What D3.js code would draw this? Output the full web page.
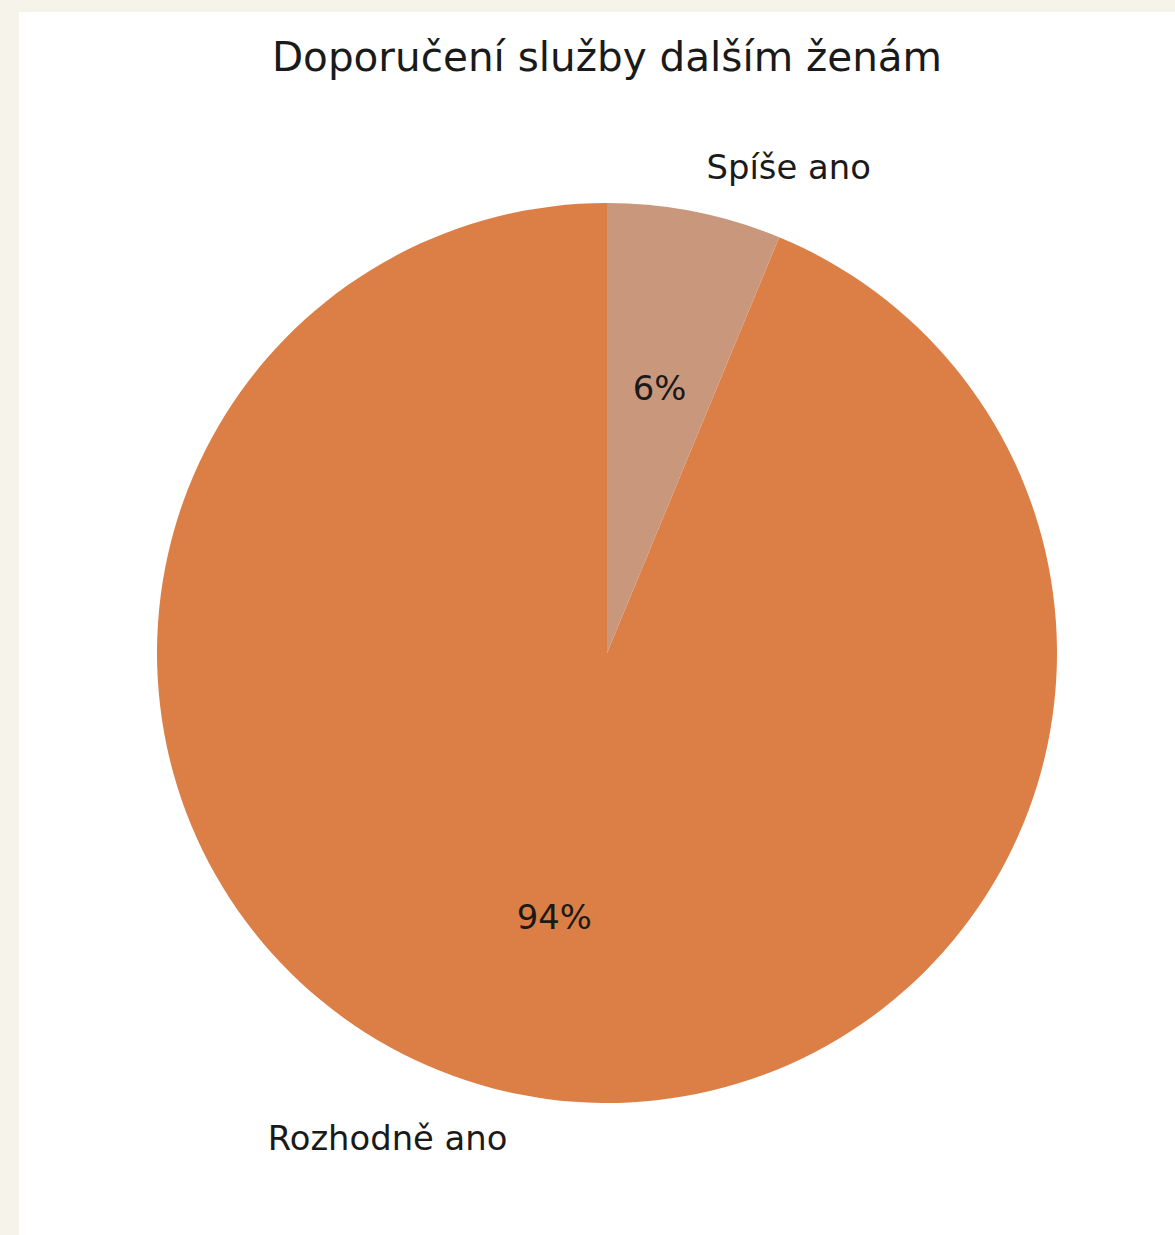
<!DOCTYPE html>
<html>
<head>
<meta charset="utf-8">
<script src="https://cdn.jsdelivr.net/npm/d3@7"></script>
<style>
html,body{margin:0;padding:0;background:#f6f3eb;}
svg{display:block;}
text{font-family:"DejaVu Sans",sans-serif;fill:#1a1a1a;}
</style>
</head>
<body>
<svg id="chart" width="1175" height="1235"></svg>
<script>
const title = "Doporučení služby dalším ženám";
const categories = ["Rozhodně ano", "Spíše ano"];
const values = [15, 1];
const colors = ["#dc7f46", "#c9977c"];

const svg = d3.select("#chart");
svg.append("rect").attr("x", 19).attr("y", 12).attr("width", 1175 - 19).attr("height", 1235 - 12).attr("fill", "#ffffff");

const cx = 607, cy = 653, R = 450;
svg.append("text").attr("x", cx).attr("y", 71).attr("text-anchor", "middle")
  .style("font-size", "40.5px").text(title);

const data = categories.map((c, i) => ({cat: c, v: values[i], col: colors[i]}));
const total = d3.sum(values);
// matplotlib: startangle 90, counterclockwise → in d3 (clockwise from top) go negative
const pie = d3.pie().value(d => d.v).sort(null).startAngle(0).endAngle(-2 * Math.PI);
const arcs = pie(data);
const arc = d3.arc().innerRadius(0).outerRadius(R);
const g = svg.append("g").attr("transform", `translate(${cx},${cy})`);
g.selectAll("path").data(arcs).join("path").attr("d", arc).attr("fill", d => d.data.col);

function pos(a, r) {
  const m = (a.startAngle + a.endAngle) / 2;
  return [Math.sin(m) * r, -Math.cos(m) * r];
}
g.selectAll("text.lbl").data(arcs).join("text").attr("class", "lbl")
  .attr("x", d => { const p = pos(d, 1.1 * R)[0]; return p + (p >= 0 ? 3 : -3); })
  .attr("y", d => pos(d, 1.1 * R)[1])
  .attr("text-anchor", d => pos(d, 1)[0] >= 0 ? "start" : "end")
  .attr("dominant-baseline", "central")
  .style("font-size", "33.8px").text(d => d.data.cat);
g.selectAll("text.pct").data(arcs).join("text").attr("class", "pct")
  .attr("x", d => pos(d, 0.6 * R)[0]).attr("y", d => pos(d, 0.6 * R)[1])
  .attr("text-anchor", "middle").attr("dominant-baseline", "central")
  .style("font-size", "33.8px").text(d => Math.round(d.data.v / total * 100) + "%");
</script>
</body>
</html>
